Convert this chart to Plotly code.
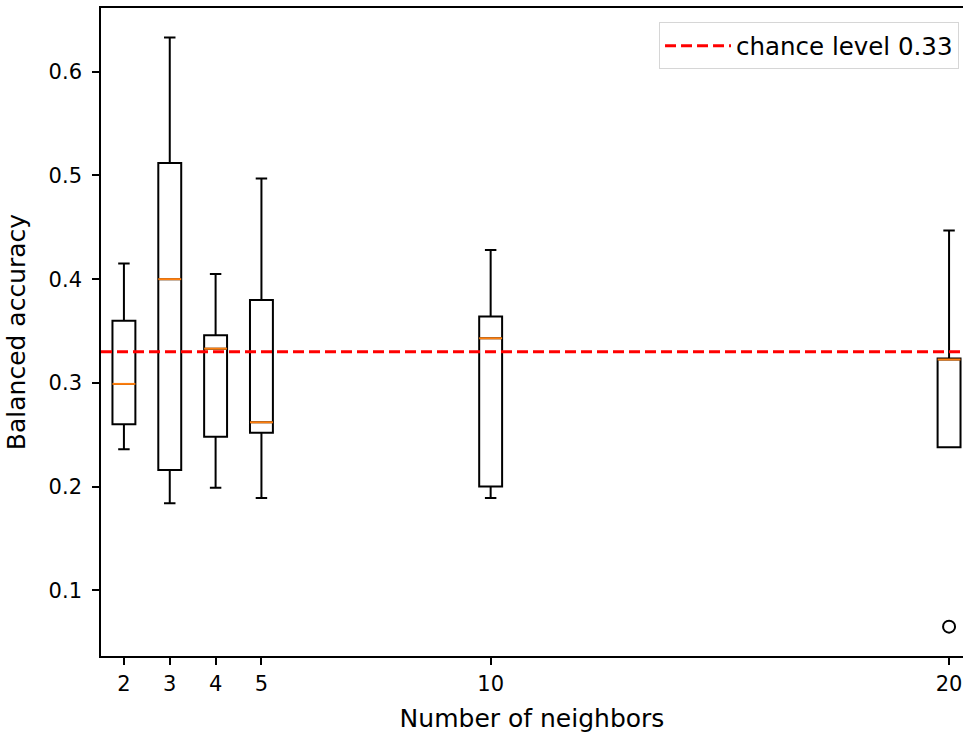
import plotly.graph_objects as go

# ---- data ----
neighbors = [2, 3, 4, 5, 10, 20]
upper_whisker = [0.415, 0.633, 0.405, 0.497, 0.428, 0.447]
q3_vals = [0.360, 0.512, 0.346, 0.380, 0.364, 0.3235]
median_vals = [0.299, 0.400, 0.333, 0.262, 0.343, 0.3225]
q1_vals = [0.260, 0.216, 0.248, 0.252, 0.200, 0.238]
lower_whisker = [0.236, 0.184, 0.199, 0.189, 0.189, 0.238]
outlier_x = [20]
outlier_y = [0.065]
chance_level = 0.33
xticks = [2, 3, 4, 5, 10, 20]
yticks = [0.1, 0.2, 0.3, 0.4, 0.5, 0.6]

box_width = 0.5
x_range = [1.5, 20.304]
y_range = [0.0367, 0.6614]
FONT = "DejaVu Sans"
FS = 21

fig = go.Figure()
fig.add_trace(go.Box(
    x=neighbors, q1=q1_vals, median=median_vals, q3=q3_vals,
    lowerfence=lower_whisker, upperfence=upper_whisker,
    width=box_width, whiskerwidth=0.5,
    line=dict(color="black", width=2), fillcolor="white",
    boxpoints=False, showlegend=False, hoverinfo="skip",
))

# median lines (orange) on top of boxes
mx, my = [], []
for p, m in zip(neighbors, median_vals):
    mx += [p - box_width / 2, p + box_width / 2, None]
    my += [m, m, None]
fig.add_trace(go.Scatter(x=mx, y=my, mode="lines",
                         line=dict(color="#ff7f0e", width=2),
                         showlegend=False, hoverinfo="skip"))

# outliers
fig.add_trace(go.Scatter(x=outlier_x, y=outlier_y, mode="markers",
                         marker=dict(symbol="circle-open", size=12, color="black",
                                     line=dict(width=2, color="black")),
                         showlegend=False, hoverinfo="skip"))

# chance level line
fig.add_trace(go.Scatter(x=x_range, y=[chance_level, chance_level], mode="lines",
                         line=dict(color="red", width=3, dash="11px,5px"),
                         name=f"chance level {chance_level:.2f}", hoverinfo="skip"))

fig.update_layout(
    width=963, height=733,
    margin=dict(l=101, r=0, t=8, b=77),
    plot_bgcolor="white", paper_bgcolor="white",
    font=dict(family=FONT, size=FS, color="black"),
    legend=dict(x=0.9954, xanchor="right", y=0.978, yanchor="top",
                bgcolor="white", bordercolor="#d6d6d6", borderwidth=1,
                itemwidth=66, font=dict(size=24.5)),
    xaxis=dict(range=x_range, tickmode="array", tickvals=xticks,
               ticktext=[str(t) for t in xticks],
               showgrid=False, zeroline=False,
               showline=True, linecolor="black", linewidth=1.6, mirror=True,
               ticks="outside", ticklen=7, tickwidth=1.6, tickcolor="black",
               ticklabelstandoff=1,
               title=dict(text="Number of neighbors", standoff=14)),
    yaxis=dict(range=y_range, tickmode="array", tickvals=yticks,
               ticktext=[f"{t:.1f}" for t in yticks],
               showgrid=False, zeroline=False,
               showline=True, linecolor="black", linewidth=1.6,
               ticks="outside", ticklen=7, tickwidth=1.6, tickcolor="black",
               ticklabelstandoff=6,
               title=dict(text="Balanced accuracy", standoff=16)),
)

fig.write_html("out.html",
               config={"displayModeBar": False},
               post_script="document.body.style.margin='0';"
                           "document.body.style.overflow='hidden';")
